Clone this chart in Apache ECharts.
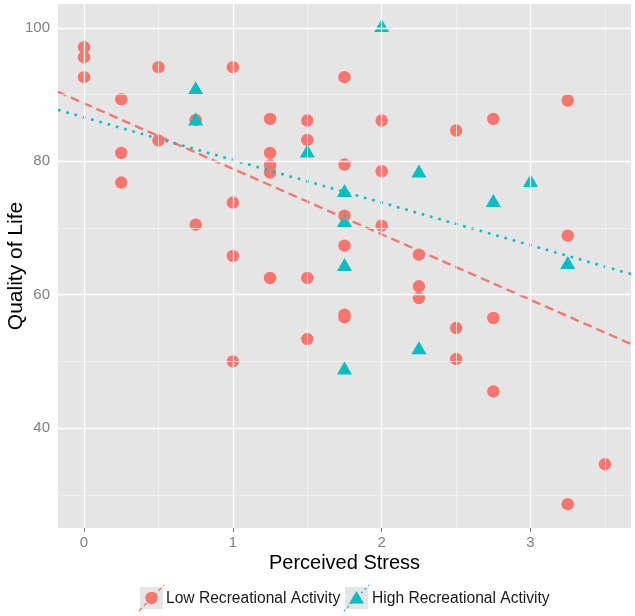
<!DOCTYPE html>
<html>
<head>
<meta charset="utf-8">
<script src="https://cdn.jsdelivr.net/npm/echarts@6/dist/echarts.min.js"></script>
<style>
html,body{margin:0;padding:0;background:#fff;}
#chart{width:635px;height:616px;}
</style>
</head>
<body>
<div id="chart"></div>
<script>
// ---- data ----
var lowStress = [0,0,0, 0.25,0.25,0.25, 0.5,0.5, 0.75,0.75, 1,1,1,1,
  1.25,1.25,1.25,1.25,1.25, 1.5,1.5,1.5,1.5, 1.75,1.75,1.75,1.75,1.75,1.75,
  2,2,2, 2.25,2.25,2.25, 2.5,2.5,2.5, 2.75,2.75,2.75, 3.25,3.25,3.25, 3.5];
var lowQoL = [97.1,95.6,92.6, 89.3,81.25,76.8, 94.1,83.1, 86.2,70.5, 94.1,73.8,65.8,50.0,
  86.35,81.25,79.4,78.3,62.5, 86.1,83.2,62.5,53.35, 92.6,79.5,71.85,67.35,57.0,56.6,
  86.1,78.5,70.35, 66.0,61.25,59.5, 84.6,55.0,50.35, 86.35,56.5,45.5, 89.1,68.85,28.6, 34.6];
var highStress = [0.75,0.75, 1.5, 1.75,1.75,1.75,1.75, 2, 2.25,2.25, 2.75, 3, 3.25];
var highQoL = [90.7,86.0, 81.2, 75.3,70.8,64.2,48.7, 100.0, 78.2,51.7, 73.8, 76.8, 64.5];
// fitted lines, endpoints read at the panel edges
var lowFitX = [-0.175, 3.675];
var lowFitY = [90.4, 52.6];
var highFitX = [-0.175, 3.675];
var highFitY = [87.7, 63.1];
// axes
var xMin = -0.175, xMax = 3.675, yMin = 25.03, yMax = 103.57;
var xTicks = [0, 1, 2, 3];
var xMinor = [0.5, 1.5, 2.5, 3.5];
var yTicks = [40, 60, 80, 100];
var yMinor = [30, 50, 70, 90];
var seriesNames = ['Low Recreational Activity', 'High Recreational Activity'];
var xTitle = 'Perceived Stress';
var yTitle = 'Quality of Life';

function zip(a, b) { return a.map(function (v, i) { return [v, b[i]]; }); }

var RED = '#F8766D', TEAL = '#00BFC4';
var FONT = 'Liberation Sans, Arial, sans-serif';

var gridLines = [];
xMinor.forEach(function (v) { gridLines.push({ xAxis: v, lineStyle: { color: '#F2F2F2', width: 0.8 } }); });
yMinor.forEach(function (v) { gridLines.push({ yAxis: v, lineStyle: { color: '#F2F2F2', width: 0.8 } }); });
xTicks.forEach(function (v) { gridLines.push({ xAxis: v, lineStyle: { color: '#FFFFFF', width: 1.3 } }); });
yTicks.forEach(function (v) { gridLines.push({ yAxis: v, lineStyle: { color: '#FFFFFF', width: 1.3 } }); });

var chart = echarts.init(document.getElementById('chart'), null, { renderer: 'canvas' });
chart.setOption({
  animation: false,
  backgroundColor: '#FFFFFF',
  textStyle: { fontFamily: FONT },
  grid: { left: 58, right: 4, top: 4, bottom: 88, show: true, backgroundColor: '#E5E5E5', borderWidth: 0,
          containLabel: false, outerBoundsMode: 'none' },
  xAxis: {
    type: 'value', min: xMin, max: xMax,
    name: xTitle, nameLocation: 'middle', nameGap: 25, nameMoveOverlap: false,
    nameTextStyle: { fontSize: 20, color: '#000', fontFamily: FONT },
    axisLine: { show: false },
    axisTick: { show: true, length: 4, lineStyle: { color: '#7F7F7F', width: 1 }, customValues: xTicks },
    axisLabel: { color: '#7F7F7F', fontSize: 15, margin: 7, fontFamily: FONT, customValues: xTicks },
    splitLine: { show: false }
  },
  yAxis: {
    type: 'value', min: yMin, max: yMax,
    name: yTitle, nameLocation: 'middle', nameGap: 31, nameMoveOverlap: false,
    nameTextStyle: { fontSize: 21, color: '#000', fontFamily: FONT },
    axisLine: { show: false },
    axisTick: { show: true, length: 4, lineStyle: { color: '#7F7F7F', width: 1 }, customValues: yTicks },
    axisLabel: { color: '#7F7F7F', fontSize: 15, margin: 8, fontFamily: FONT, customValues: yTicks },
    splitLine: { show: false }
  },
  series: [
    {
      type: 'line', data: [], z: 1, silent: true,
      markLine: { silent: true, symbol: 'none', label: { show: false }, animation: false,
        lineStyle: { type: 'solid' }, data: gridLines }
    },
    {
      name: seriesNames[0], type: 'scatter', z: 3,
      symbol: 'circle', symbolSize: 12.5,
      itemStyle: { color: RED, opacity: 1 },
      data: zip(lowStress, lowQoL)
    },
    {
      name: seriesNames[1], type: 'scatter', z: 3,
      symbol: 'triangle', symbolSize: [15, 13], symbolOffset: [0, -2.2],
      itemStyle: { color: TEAL, opacity: 1 },
      data: zip(highStress, highQoL)
    },
    {
      type: 'line', z: 4, silent: true, symbol: 'none',
      lineStyle: { color: RED, width: 2.4, type: [9, 5], cap: 'butt' },
      data: zip(lowFitX, lowFitY)
    },
    {
      type: 'line', z: 4, silent: true, symbol: 'none',
      lineStyle: { color: TEAL, width: 2.6, type: [2.6, 6], cap: 'butt' },
      data: zip(highFitX, highFitY)
    }
  ],
  graphic: [
    { type: 'rect', shape: { x: 140, y: 587, width: 23, height: 22 }, style: { fill: '#E5E5E5' } },
    { type: 'line', shape: { x1: 139, y1: 611, x2: 164, y2: 585 }, style: { stroke: RED, lineWidth: 1.5, lineDash: [4, 3] } },
    { type: 'circle', shape: { cx: 151.5, cy: 598, r: 6.2 }, style: { fill: RED } },
    { type: 'text', x: 166, y: 599, style: { text: seriesNames[0], fontSize: 15.6, fontFamily: FONT, fill: '#1A1A1A', verticalAlign: 'middle' } },
    { type: 'rect', shape: { x: 345, y: 587, width: 23, height: 22 }, style: { fill: '#E5E5E5' } },
    { type: 'line', shape: { x1: 344, y1: 611, x2: 369, y2: 585 }, style: { stroke: TEAL, lineWidth: 1.6, lineDash: [1.6, 3.4] } },
    { type: 'polygon', shape: { points: [[356.5, 591], [364, 603.5], [349, 603.5]] }, style: { fill: TEAL } },
    { type: 'text', x: 372, y: 599, style: { text: seriesNames[1], fontSize: 15.6, fontFamily: FONT, fill: '#1A1A1A', verticalAlign: 'middle' } }
  ]
});
</script>
</body>
</html>
